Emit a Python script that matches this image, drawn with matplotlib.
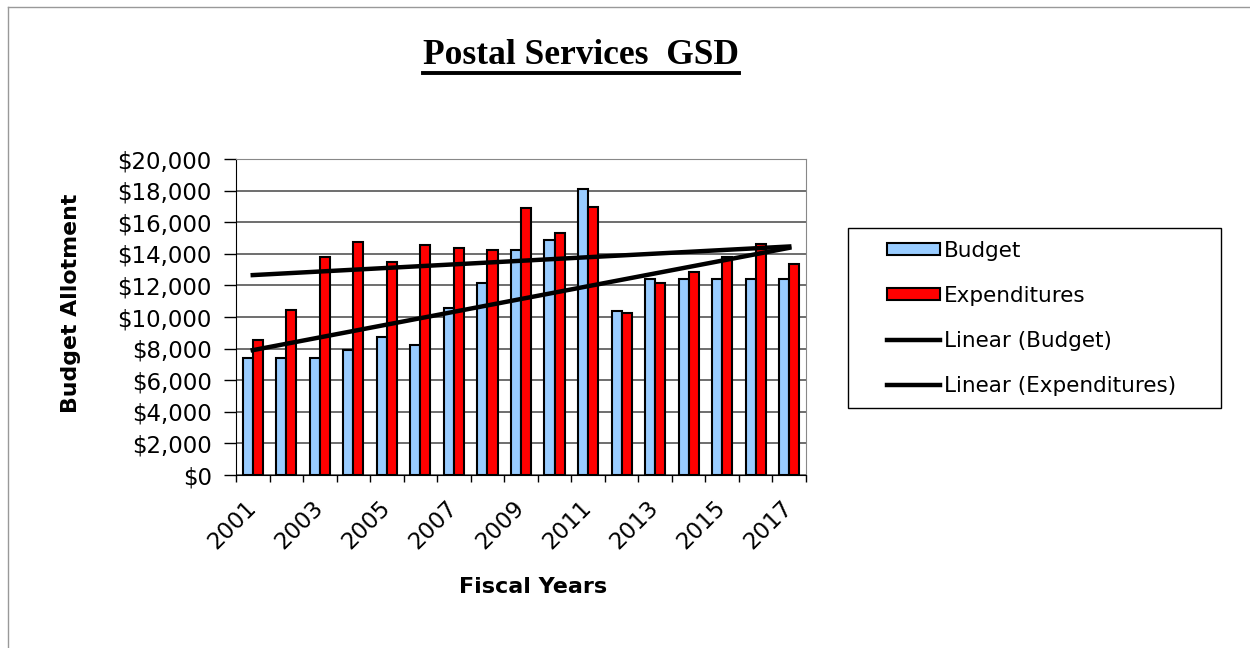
import numpy as np
import matplotlib.pyplot as plt
from matplotlib.patches import Patch, Rectangle
from matplotlib.lines import Line2D
from matplotlib.ticker import FuncFormatter

# Данные
years = list(range(2001, 2018))
budget = [7430, 7430, 7430, 7900, 8720, 8250, 10560, 12150, 14260,
          14860, 18070, 10410, 12380, 12380, 12380, 12380, 12380]
expenditures = [8570, 10450, 13820, 14750, 13460, 14580, 14370, 14260, 16870,
                15320, 16950, 10260, 12130, 12870, 13820, 14650, 13350]

plt.rcParams['font.family'] = ['DejaVu Sans']

fig = plt.figure(figsize=(12.5, 6.48), dpi=100)
ax = fig.add_axes([236 / 1250, 1 - 475 / 648, 570 / 1250, 316 / 648])

x = np.arange(len(years))
w = 0.3
ax.bar(x - w / 2, budget, w, color='#99ccff', edgecolor='black', linewidth=1.5, zorder=3)
ax.bar(x + w / 2, expenditures, w, color='#ff0000', edgecolor='black', linewidth=1.5, zorder=3)

# линейные тренды как в Excel
kb = np.polyfit(x, budget, 1)
ke = np.polyfit(x, expenditures, 1)
ax.plot(x, np.polyval(kb, x), color='black', lw=3.2, zorder=4)
ax.plot(x, np.polyval(ke, x), color='black', lw=3.2, zorder=4)

ax.set_xlim(-0.5, len(years) - 0.5)
ax.set_ylim(0, 20000)
ax.set_yticks(np.arange(0, 20001, 2000))
ax.yaxis.set_major_formatter(FuncFormatter(lambda v, p: f"${v:,.0f}"))
ax.grid(axis='y', color='#555555', lw=1.2, zorder=0)

ax.set_xticks(np.arange(-0.5, len(years), 1))
ax.set_xticklabels([])
ax.set_xticks(x[::2], minor=True)
ax.set_xticklabels([str(y) for y in years[::2]], minor=True, rotation=45,
                   ha='right', va='center', rotation_mode='anchor', fontsize=16.5)
ax.tick_params(axis='x', which='minor', length=0, pad=21)
ax.tick_params(axis='x', which='major', length=5, direction='out', width=1)
ax.tick_params(axis='y', labelsize=16.5, length=8.5, width=1, pad=9)

for s in ['top', 'right']:
    ax.spines[s].set_color('#888888')
for s in ['left', 'bottom']:
    ax.spines[s].set_color('black')

fig.text(71 / 1250, 1 - 303 / 648, 'Budget Allotment', rotation=90, fontsize=15.8,
         fontweight='bold', ha='center', va='center')
fig.text(533 / 1250, 1 - 587 / 648, 'Fiscal Years', fontsize=16,
         fontweight='bold', ha='center', va='center')

title = fig.text(581 / 1250, 1 - 56 / 648, 'Postal Services  GSD', fontsize=25.5,
                 fontweight='bold', ha='center', va='center',
                 family=['Liberation Serif', 'DejaVu Serif'])
fig.canvas.draw()
bb = title.get_window_extent().transformed(fig.transFigure.inverted())
fig.add_artist(Line2D([bb.x0, bb.x1], [1 - 73 / 648] * 2, color='black', lw=2.8))

# рамка легенды
fig.add_artist(Rectangle((848 / 1250, 1 - 408 / 648), (1221 - 848) / 1250, 180 / 648,
                         transform=fig.transFigure, fill=False, edgecolor='black', lw=1))
handles = [Patch(facecolor='#99ccff', edgecolor='black', lw=1.5),
           Patch(facecolor='#ff0000', edgecolor='black', lw=1.5),
           Line2D([0], [0], color='black', lw=3.2),
           Line2D([0], [0], color='black', lw=3.2)]
labels = ['Budget', 'Expenditures', 'Linear (Budget)', 'Linear (Expenditures)']
fig.legend(handles, labels, loc='upper left', bbox_to_anchor=(887 / 1250, 1 - 241 / 648),
           frameon=False, fontsize=15.5, borderpad=0, borderaxespad=0,
           handlelength=2.45, handleheight=0.5, handletextpad=0.2, labelspacing=1.16)

# серая рамка слева и сверху
fig.add_artist(Line2D([8 / 1250, 8 / 1250], [0, 1 - 7 / 648], color='#999999', lw=1))
fig.add_artist(Line2D([8 / 1250, 1], [1 - 7 / 648] * 2, color='#999999', lw=1))

fig.savefig('out.png', dpi=100)
